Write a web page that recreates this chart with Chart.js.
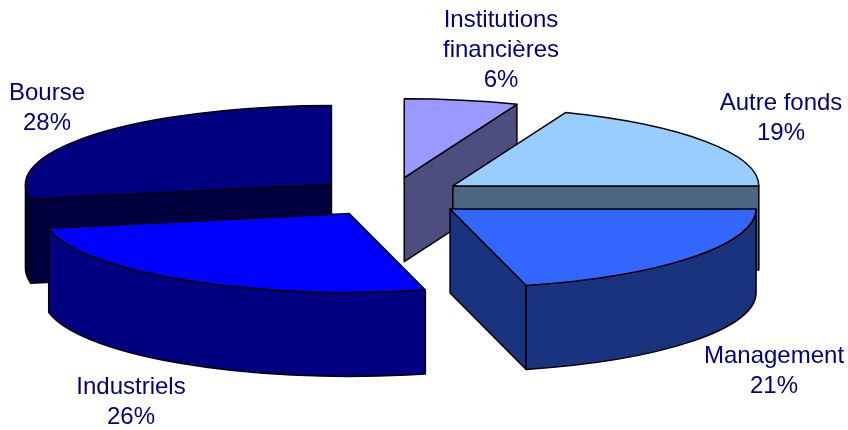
<!DOCTYPE html>
<html>
<head>
<meta charset="utf-8">
<style>
  html, body { margin: 0; padding: 0; background: #fff; }
  canvas { display: block; }
</style>
<script src="https://cdn.jsdelivr.net/npm/chart.js@4/dist/chart.umd.js"></script>
</head>
<body>
<canvas id="pie" width="848" height="430"></canvas>
<script>
const categories = ['Institutions financières', 'Autre fonds', 'Management', 'Industriels', 'Bourse'];
const values = [6, 19, 21, 26, 28];
const topColors = ['#9999ff', '#99ccff', '#3366ff', '#0000ff', '#000080'];
const wallColors = ['#4d4d80', '#4d6680', '#19337f', '#000080', '#000040'];

// lines of each label, and where they sit on the page (centre x, first baseline y)
const labelLines = [['Institutions', 'financières', '6%'], ['Autre fonds', '19%'], ['Management', '21%'], ['Industriels', '26%'], ['Bourse', '28%']];
const labelPos = [[501, 27], [781, 110], [774, 363], [131, 394], [47, 100]];

const radius = 306;
const tilt = 0.258;     // squash of the circle into an ellipse
const depth = 84;       // thickness of the pie
const explode = 76;     // how far each slice is pulled out
const drawOrder = [4, 0, 1, 2, 3]; // back to front

function drawSlice(ctx, arc, top, wall) {
  const mid = (arc.startAngle + arc.endAngle) / 2;
  const cx = arc.x + Math.cos(mid) * explode;
  const cy = arc.y + Math.sin(mid) * explode * tilt;
  const rimX = (a) => cx + Math.cos(a) * arc.outerRadius;
  const rimY = (a) => cy + Math.sin(a) * arc.outerRadius * tilt;

  ctx.lineWidth = 1.5;
  ctx.lineJoin = 'round';
  ctx.strokeStyle = '#000';

  // cut faces, only those turned to the viewer
  const faces = [];
  if (Math.sin(arc.startAngle - Math.PI / 2) > 1e-6) faces.push(arc.startAngle);
  if (Math.sin(arc.endAngle + Math.PI / 2) > 1e-6) faces.push(arc.endAngle);
  faces.forEach((a) => {
    ctx.beginPath();
    ctx.moveTo(cx, cy);
    ctx.lineTo(rimX(a), rimY(a));
    ctx.lineTo(rimX(a), rimY(a) + depth);
    ctx.lineTo(cx, cy + depth);
    ctx.closePath();
    ctx.fillStyle = wall;
    ctx.fill();
    ctx.stroke();
  });

  // outer wall, front half of the rim only
  const from = Math.max(arc.startAngle, 0);
  const to = Math.min(arc.endAngle, Math.PI);
  if (to > from) {
    ctx.beginPath();
    ctx.ellipse(cx, cy, arc.outerRadius, arc.outerRadius * tilt, 0, from, to);
    ctx.ellipse(cx, cy + depth, arc.outerRadius, arc.outerRadius * tilt, 0, to, from, true);
    ctx.closePath();
    ctx.fillStyle = wall;
    ctx.fill();
    ctx.stroke();
  }

  // top face: the library's own arc, squashed
  ctx.save();
  ctx.translate(cx, cy);
  ctx.scale(1, tilt);
  ctx.translate(-arc.x, -arc.y);
  arc.draw(ctx);
  ctx.restore();

  ctx.beginPath();
  ctx.moveTo(cx, cy);
  ctx.ellipse(cx, cy, arc.outerRadius, arc.outerRadius * tilt, 0, arc.startAngle, arc.endAngle);
  ctx.closePath();
  ctx.stroke();
}

const pie3d = {
  id: 'pie3d',
  beforeDatasetsDraw(chart) {
    const ctx = chart.ctx;
    const arcs = chart.getDatasetMeta(0).data;
    drawOrder.forEach((i) => drawSlice(ctx, arcs[i], topColors[i], wallColors[i]));
    return false;
  },
  afterDraw(chart) {
    const ctx = chart.ctx;
    ctx.save();
    ctx.font = '24px "Liberation Sans"';
    ctx.fillStyle = '#000080';
    ctx.textAlign = 'center';
    labelLines.forEach((lines, i) => {
      lines.forEach((line, n) => ctx.fillText(line, labelPos[i][0], labelPos[i][1] + n * 30));
    });
    ctx.restore();
  }
};

new Chart(document.getElementById('pie'), {
  type: 'pie',
  data: {
    labels: categories,
    datasets: [{
      data: values,
      backgroundColor: topColors,
      borderWidth: 0
    }]
  },
  options: {
    responsive: false,
    animation: false,
    rotation: 0,
    radius: radius,
    layout: { padding: { right: 68, bottom: 36 } },
    plugins: {
      legend: { display: false },
      tooltip: { enabled: false }
    }
  },
  plugins: [pie3d]
});
</script>
</body>
</html>
